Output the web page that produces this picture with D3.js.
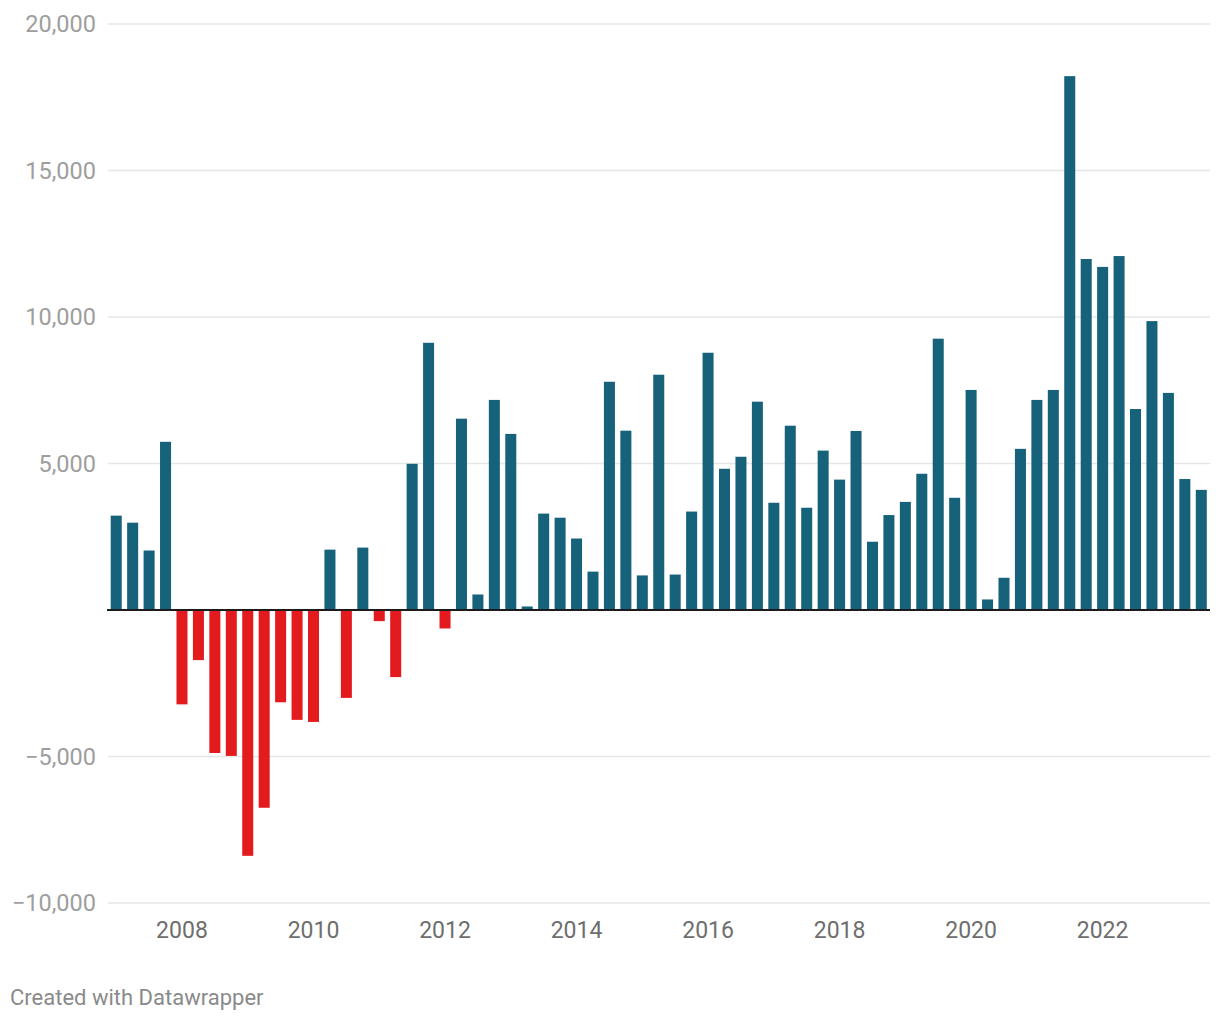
<!DOCTYPE html>
<html>
<head>
<meta charset="utf-8">
<script src="https://cdn.jsdelivr.net/npm/d3@7"></script>
<style>
  html, body { margin: 0; padding: 0; background: #fff; }
  svg { display: block; font-family: Roboto, "Noto Sans", sans-serif; }
</style>
</head>
<body>
<svg id="chart" width="1220" height="1020"></svg>
<script>
// Quarterly values, 2007 Q1 – 2023 Q3
const quarters = [];
for (let y = 2007; y <= 2023; y++) for (let q = 1; q <= 4; q++) if (!(y === 2023 && q === 4)) quarters.push(y + " Q" + q);

const values = [
  3220, 2980, 2030, 5740,        // 2007
  -3220, -1710, -4880, -4980,    // 2008
  -8390, -6750, -3150, -3750,    // 2009
  -3820, 2060, -3000, 2130,      // 2010
  -380, -2290, 4990, 9120,       // 2011
  -630, 6530, 530, 7170,         // 2012
  6010, 120, 3290, 3150,         // 2013
  2440, 1310, 7790, 6120,        // 2014
  1180, 8030, 1210, 3360,        // 2015
  8780, 4820, 5230, 7110,        // 2016
  3660, 6290, 3490, 5440,        // 2017
  4450, 6110, 2330, 3240,        // 2018
  3690, 4650, 9260, 3830,        // 2019
  7510, 360, 1100, 5500,         // 2020
  7170, 7510, 18220, 11980,      // 2021
  11710, 12080, 6860, 9860,      // 2022
  7410, 4470, 4100               // 2023
];

const yTicks = [-10000, -5000, 5000, 10000, 15000, 20000];
const xTickYears = ["2008", "2010", "2012", "2014", "2016", "2018", "2020", "2022"];
const credit = "Created with Datawrapper";

const svg = d3.select("#chart");
const left = 108, right = 1210, rangeRight = 1209.5;

const x = d3.scaleBand().domain(quarters).range([left, rangeRight]).paddingInner(0.33).paddingOuter(0.165);
const y = d3.scaleLinear().domain([-10000, 20000]).range([903, 24]);

const fmt = v => (v < 0 ? "\u2212" : "") + d3.format(",")(Math.abs(v));

// gridlines
svg.append("g").selectAll("line").data(yTicks).join("line")
  .attr("x1", left).attr("x2", right)
  .attr("y1", d => y(d)).attr("y2", d => y(d))
  .attr("stroke", "#e6e6e6").attr("stroke-width", 1.3);

// y labels
svg.append("g").selectAll("text").data(yTicks).join("text")
  .attr("x", 96).attr("y", d => y(d))
  .attr("text-anchor", "end").attr("dominant-baseline", "central")
  .attr("fill", "#9e9e9e").attr("font-size", 23.5)
  .text(fmt);

// bars
svg.append("g").selectAll("rect").data(values).join("rect")
  .attr("x", (d, i) => x(quarters[i]))
  .attr("width", x.bandwidth())
  .attr("y", d => y(Math.max(0, d)))
  .attr("height", d => Math.abs(y(d) - y(0)))
  .attr("fill", d => d < 0 ? "#e31b1e" : "#16627b");

// zero line
svg.append("line").attr("x1", 107).attr("x2", right)
  .attr("y1", y(0)).attr("y2", y(0))
  .attr("stroke", "#1c1c1c").attr("stroke-width", 2);

// x labels
svg.append("g").selectAll("text").data(xTickYears).join("text")
  .attr("x", d => x(d + " Q1") + x.bandwidth() / 2)
  .attr("y", 930)
  .attr("text-anchor", "middle").attr("dominant-baseline", "central")
  .attr("fill", "#6e6e6e").attr("font-size", 23)
  .text(d => d);

// credit
svg.append("text").attr("x", 10).attr("y", 997)
  .attr("dominant-baseline", "central")
  .attr("fill", "#8a8a8a").attr("font-size", 22)
  .text(credit);
</script>
</body>
</html>
